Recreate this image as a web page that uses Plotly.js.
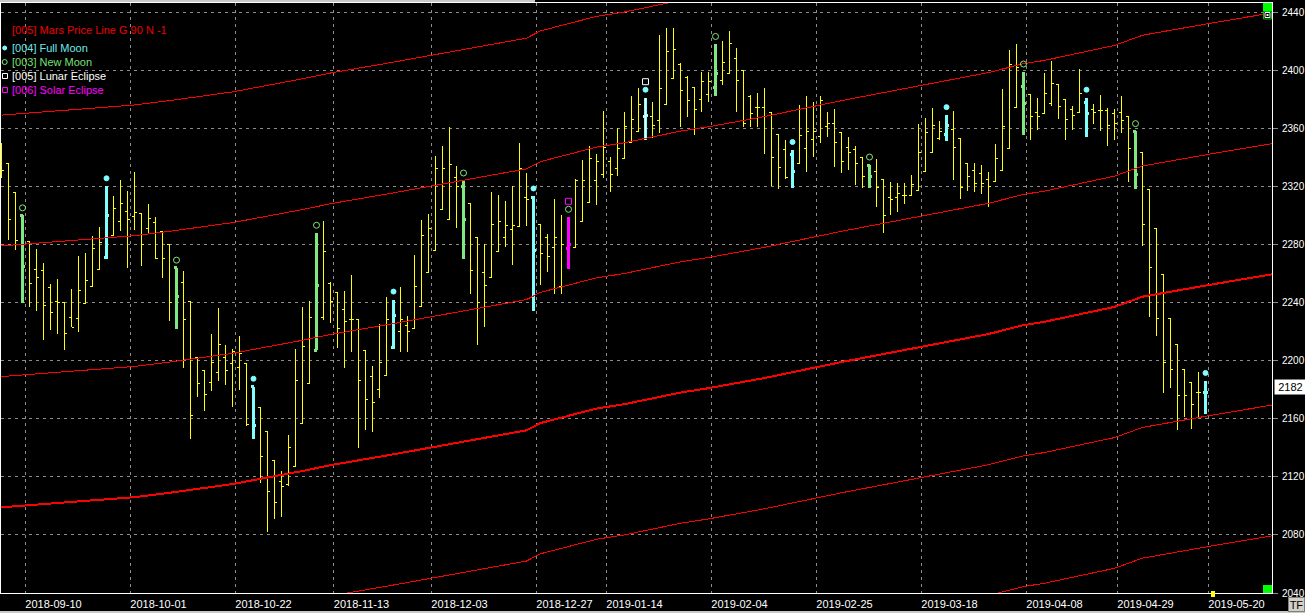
<!DOCTYPE html>
<html><head><meta charset="utf-8">
<script src="https://cdn.plot.ly/plotly-3.0.1.min.js"></script>
<style>html,body{margin:0;padding:0;background:#000;overflow:hidden}#chart{width:1305px;height:613px}
.ohlc path{shape-rendering:crispEdges}
.scatterlayer .js-line{shape-rendering:crispEdges}
</style>
</head><body><div id="chart"></div>
<script>
// ---- data (bar index = trading day position) ----
const opens = [2345,2336,2316,2300,2282,2263,2262,2250,2241,2240, 2230,2229,2239,2251,2263,2271,2286,2296,2303,2299, 2301,2291,2295,2289,2280,2264,2254,2241,2202,2193, 2185,2192,2202,2198,2195,2198,2182,2168,2151,2131, 2117,2115,2127,2157,2184,2207,2230,2253,2247,2235, 2228,2228,2207,2189,2180,2190,2209,2220,2224,2222, 2237,2261,2276,2304,2297,2326,2320,2308,2285,2261, 2257,2275,2285,2290,2292,2312,2312,2294,2285,2278, 2251,2277,2278,2296,2309,2324,2328,2337,2332,2339, 2350,2358,2368,2368,2365,2376,2394,2404,2395,2388, 2380,2383,2388,2393,2398,2408,2400,2382,2374,2374, 2371,2356,2345,2342,2336,2346,2352,2354,2361,2363, 2357,2347,2345,2340,2334,2330,2325,2312,2312,2314, 2314,2317,2330,2343,2353,2356,2359,2353,2336,2331, 2329,2325,2323,2331,2346,2374,2389,2383,2371,2370, 2377,2390,2380,2373,2371,2378,2373,2372,2372,2370, 2371,2368,2358,2343,2318,2291,2259,2229,2211,2194, 2185,2178,2178];
const highs = [2350,2336,2316,2300,2282,2277,2267,2253,2256,2240, 2249,2272,2274,2286,2292,2320,2313,2324,2317,2330, 2301,2308,2299,2289,2280,2264,2262,2241,2202,2193, 2218,2236,2211,2208,2217,2198,2182,2168,2151,2131, 2124,2149,2208,2237,2241,2288,2296,2254,2247,2248, 2259,2228,2207,2196,2225,2244,2242,2251,2231,2273, 2297,2301,2341,2348,2361,2334,2324,2308,2285,2280, 2316,2314,2310,2320,2350,2329,2313,2294,2287,2311, 2300,2299,2325,2338,2348,2342,2372,2340,2360,2371, 2382,2388,2381,2378,2424,2429,2429,2405,2396,2388, 2399,2399,2418,2420,2427,2415,2400,2383,2384,2388, 2371,2356,2352,2345,2376,2382,2378,2382,2371,2373, 2357,2354,2348,2340,2335,2339,2325,2323,2322,2322, 2328,2363,2367,2374,2365,2369,2372,2353,2336,2336, 2335,2330,2349,2387,2414,2418,2399,2383,2381,2398, 2406,2390,2380,2375,2401,2381,2377,2383,2374,2373, 2382,2368,2358,2343,2318,2291,2259,2229,2211,2194, 2185,2192,2186];
const lows = [2326,2283,2276,2240,2237,2234,2214,2221,2218,2207, 2223,2220,2239,2251,2263,2270,2286,2289,2264,2290, 2265,2288,2270,2257,2227,2222,2195,2146,2175,2165, 2179,2186,2183,2168,2180,2155,2146,2116,2082,2091, 2092,2114,2127,2157,2184,2207,2228,2226,2209,2195, 2206,2140,2152,2151,2174,2190,2208,2206,2206,2222, 2237,2261,2276,2304,2297,2291,2270,2246,2211,2223, 2257,2275,2278,2266,2292,2293,2234,2252,2261,2246, 2246,2263,2278,2296,2309,2307,2326,2316,2327,2339, 2350,2358,2352,2353,2357,2376,2394,2361,2368,2355, 2371,2378,2382,2390,2398,2371,2361,2361,2361,2342, 2320,2318,2325,2319,2336,2330,2340,2350,2354,2333, 2329,2331,2321,2319,2319,2306,2288,2300,2302,2308, 2314,2317,2330,2343,2352,2351,2324,2311,2317,2316, 2315,2306,2323,2331,2346,2374,2355,2352,2359,2370, 2375,2366,2352,2359,2371,2354,2363,2358,2348,2352, 2357,2323,2318,2279,2230,2217,2178,2181,2152,2161, 2153,2161,2163];
const closes = [2331,2297,2283,2265,2253,2257,2238,2233,2240,2219, 2223,2248,2255,2277,2281,2300,2305,2308,2297,2302, 2280,2298,2270,2270,2240,2244,2228,2162,2184,2177, 2199,2211,2193,2206,2205,2156,2155,2134,2110,2102, 2113,2140,2186,2210,2230,2252,2275,2241,2222,2227, 2228,2186,2173,2171,2199,2228,2231,2228,2220,2251, 2286,2291,2332,2332,2335,2320,2297,2262,2240,2252, 2294,2296,2293,2293,2332,2311,2276,2274,2272,2285, 2280,2280,2324,2324,2339,2337,2347,2328,2346,2361, 2366,2376,2369,2362,2387,2413,2414,2386,2379,2373, 2392,2392,2398,2405,2418,2393,2363,2370,2374,2368, 2340,2333,2326,2330,2355,2358,2358,2379,2363,2350, 2337,2343,2336,2327,2327,2319,2300,2311,2315,2314, 2321,2343,2357,2362,2358,2362,2347,2319,2327,2322, 2322,2320,2339,2361,2404,2402,2377,2368,2368,2384, 2391,2375,2366,2369,2384,2370,2371,2372,2362,2363, 2365,2346,2328,2294,2264,2229,2199,2194,2176,2176, 2170,2178,2178];

const fullMoonIdx = [15, 36, 56, 76, 92, 113, 135, 155, 172];
const newMoonIdx = [3, 25, 45, 66, 81, 102, 124, 146, 162];
const lunarEclipseIdx = [92];
const solarEclipseIdx = [81];

// Mars price line (base harmonic) read at bar positions; harmonics every 90
const marsIdx = [0, 19, 24, 33, 43, 47, 56, 66, 75, 77, 85, 89, 97, 101, 109, 120, 132, 141, 146, 149, 159, 163, 173, 182];
const marsBase = [2099, 2106, 2109, 2115, 2124, 2128, 2135.5, 2144, 2152, 2157, 2167, 2170, 2178, 2181, 2188, 2199, 2210, 2218.3, 2224.4, 2226.7, 2237, 2244, 2252.5, 2259.8];
const marsOffsets = [-180, -90, 0, 90, 180, 270];

const tickIdx = [3, 18, 33, 47, 61, 76, 86, 101, 116, 131, 146, 159, 172];
const tickLabels = ['2018-09-10','2018-10-01','2018-10-22','2018-11-13','2018-12-03','2018-12-27','2019-01-14','2019-02-04','2019-02-25','2019-03-18','2019-04-08','2019-04-29','2019-05-20'];
const priceTicks = [2040, 2080, 2120, 2160, 2200, 2240, 2280, 2320, 2360, 2400, 2440];
const lastPrice = 2182;

// ---- layout geometry ----
const W = 1305, H = 613, ML = 1, MR = 33, MT = 3, MB = 20;
const plotW = W - ML - MR, plotH = H - MT - MB;
const yRange = [2040, 2446.2];
const x0 = -0.5 / 7;
const xRange = [x0, x0 + plotW / 7];
const pricePerPx = (yRange[1] - yRange[0]) / plotH;
const px2x = p => (p - ML) / plotW;
const px2y = p => (H - MB - p) / plotH;

const YELLOW = '#ffff00', CYAN = '#80ffff', GREEN = '#80e880', MAGENTA = '#ff00ff', RED = '#ff0000', GRID = '#8c8c8c';
const FONT = 'Liberation Sans, Arial, sans-serif';

function ohlc(idx, color, width) {
  return {
    type: 'ohlc', x: idx,
    open: idx.map(i => opens[i]), high: idx.map(i => highs[i]),
    low: idx.map(i => lows[i]), close: idx.map(i => closes[i]),
    increasing: {line: {color: color, width: width}},
    decreasing: {line: {color: color, width: width}},
    tickwidth: 0.34, hoverinfo: 'skip', showlegend: false
  };
}

const traces = [];
marsOffsets.forEach(off => {
  traces.push({type: 'scatter', mode: 'lines', x: marsIdx, y: marsBase.map(v => v + off),
    line: {color: RED, width: off === 0 ? 2 : 1}, hoverinfo: 'skip', showlegend: false});
});
const allIdx = opens.map((_, i) => i);
traces.push(ohlc(allIdx, YELLOW, 1));
traces.push(ohlc(fullMoonIdx.filter(i => !lunarEclipseIdx.includes(i)), CYAN, 3));
traces.push(ohlc(newMoonIdx.filter(i => !solarEclipseIdx.includes(i)), GREEN, 3));
traces.push(ohlc(solarEclipseIdx, MAGENTA, 3));
traces.push(ohlc(lunarEclipseIdx, CYAN, 3));
traces.push(ohlc(lunarEclipseIdx, '#ffffff', 1));

function markers(idx, px, symbol, size, color) {
  return {type: 'scatter', mode: 'markers', x: idx, y: idx.map(i => highs[i] + px * pricePerPx),
    marker: {symbol: symbol, size: size, color: color, line: {color: color, width: 1}},
    hoverinfo: 'skip', showlegend: false, cliponaxis: false};
}
traces.push(markers(fullMoonIdx, 8, 'circle', 5, CYAN));
traces.push(markers(newMoonIdx, 7.5, 'circle-open', 6, GREEN));
traces.push(markers(lunarEclipseIdx, 16, 'square-open', 6, '#ffffff'));
traces.push(markers(solarEclipseIdx, 15.5, 'square-open', 6, MAGENTA));

const legendItems = [
  {text: '[005] Mars Price Line G 90 N -1', y: 30.5, color: '#f00000'},
  {text: '[004] Full Moon', y: 48, color: '#70e8e8'},
  {text: '[003] New Moon', y: 62, color: '#74e074'},
  {text: '[005] Lunar Eclipse', y: 76, color: '#ffffff'},
  {text: '[006] Solar Eclipse', y: 90, color: '#ff00ff'}
];
const annotations = legendItems.map(it => ({
  text: it.text, xref: 'paper', yref: 'paper', x: px2x(10), y: px2y(it.y),
  xanchor: 'left', yanchor: 'middle', showarrow: false,
  font: {family: FONT, size: 11, color: it.color}
}));
annotations.push({text: String(lastPrice), xref: 'paper', yref: 'y', x: px2x(1274), y: lastPrice,
  xanchor: 'left', yanchor: 'middle', showarrow: false, bgcolor: '#ffffff', borderpad: 1,
  width: 29, height: 12, align: 'center', font: {family: FONT, size: 11, color: '#000000'}});
annotations.push({text: 'TF', xref: 'paper', yref: 'paper', x: px2x(1288), y: px2y(597),
  xanchor: 'left', yanchor: 'top', showarrow: false, bgcolor: '#d4d0c8', bordercolor: '#808080',
  borderwidth: 1, borderpad: 0, width: 15, height: 13, font: {family: FONT, size: 11, color: '#000000'}});

function pxRect(x0, y0, x1, y1, fill, line) {
  return {type: 'rect', xref: 'paper', yref: 'paper', x0: px2x(x0), x1: px2x(x1), y0: px2y(y1), y1: px2y(y0),
    fillcolor: fill, line: {color: line || fill, width: line ? 1 : 0}, layer: 'above'};
}
function legendSym(type, cx, cy, r, fill, line) {
  return {type: type, xref: 'paper', yref: 'paper', xsizemode: 'pixel', ysizemode: 'pixel',
    xanchor: px2x(cx), yanchor: px2y(cy), x0: -r, x1: r, y0: -r, y1: r,
    fillcolor: fill, line: {color: line, width: 1}, layer: 'above'};
}
const shapes = [
  pxRect(0, 0, 535, 2, '#c8c8c8'),
  pxRect(0, 611, 1305, 613, '#c8c8c8'),
  pxRect(1263, 3, 1272, 11, '#00ff00'),
  pxRect(1263.5, 11.5, 1271.5, 19, '#000000', '#00c000'),
  pxRect(1265, 12.5, 1270, 17.5, 'rgba(0,0,0,0)', '#ffffff'),
  pxRect(1266.5, 14, 1268.5, 16, '#ffffff'),
  pxRect(1263, 585, 1272, 593, '#00ff00'),
  pxRect(1211, 591, 1215, 597, '#ffff00'),
  legendSym('circle', 4.7, 48, 2, CYAN, CYAN),
  legendSym('circle', 4.7, 62, 2.5, 'rgba(0,0,0,0)', GREEN),
  legendSym('rect', 5, 76, 2.5, 'rgba(0,0,0,0)', '#ffffff'),
  legendSym('rect', 5, 90, 2.5, 'rgba(0,0,0,0)', MAGENTA)
];

const layout = {
  width: W, height: H, margin: {l: ML, r: MR, t: MT, b: MB, pad: 0},
  paper_bgcolor: '#000000', plot_bgcolor: '#000000', showlegend: false,
  font: {family: FONT, size: 11, color: '#ffffff'},
  xaxis: {
    range: xRange, tickmode: 'array', tickvals: tickIdx.map(i => i + 3 / 7), ticktext: tickLabels,
    showgrid: true, gridcolor: GRID, gridwidth: 1, griddash: '3px,4px', ticks: '',
    showline: true, linecolor: '#ffffff', linewidth: 1, mirror: true, zeroline: false,
    tickfont: {family: FONT, size: 11, color: '#ffffff'}, ticklabelshift: 28, ticklabelstandoff: 1,
    rangeslider: {visible: false}, fixedrange: true
  },
  yaxis: {
    side: 'right', range: yRange, tickmode: 'array', tickvals: priceTicks,
    ticks: 'outside', ticklen: 5, tickcolor: GRID, tickwidth: 1,
    showgrid: true, gridcolor: GRID, gridwidth: 1, griddash: '3px,4px',
    showline: true, linecolor: '#ffffff', linewidth: 1, mirror: true, zeroline: false,
    tickfont: {family: FONT, size: 10, color: '#ffffff'}, ticklabelstandoff: 2, fixedrange: true
  },
  annotations: annotations, shapes: shapes
};

Plotly.newPlot('chart', traces, layout, {displayModeBar: false, staticPlot: true});
</script></body></html>
